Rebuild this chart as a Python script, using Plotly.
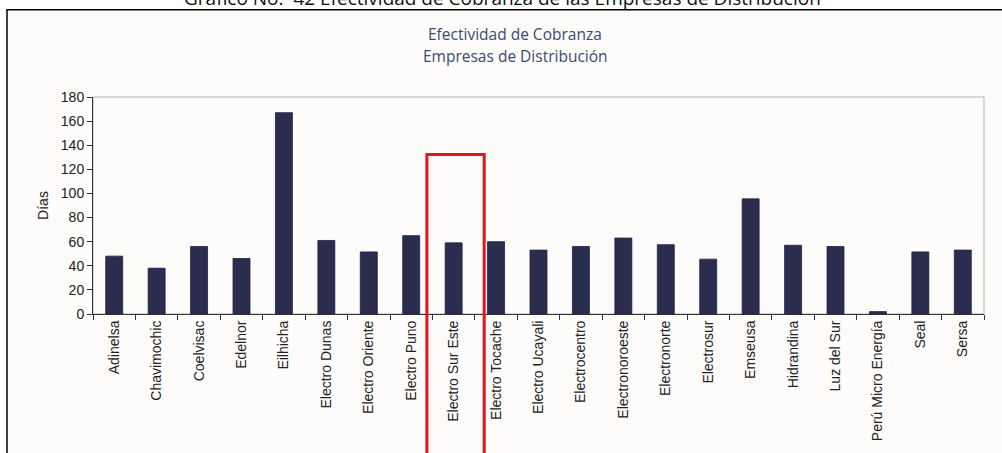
import plotly.graph_objects as go

categories = ["Adinelsa", "Chavimochic", "Coelvisac", "Edelnor", "Eilhicha",
              "Electro Dunas", "Electro Oriente", "Electro Puno", "Electro Sur Este",
              "Electro Tocache", "Electro Ucayali", "Electrocentro", "Electronoroeste",
              "Electronorte", "Electrosur", "Emseusa", "Hidrandina", "Luz del Sur",
              "Perú Micro Energía", "Seal", "Sersa"]
dias = [48, 38, 56, 46, 167, 61, 51.5, 65, 59, 60, 53, 56, 63, 57.5, 45.5, 95.5,
        57, 56, 2, 51.5, 53]
y_ticks = [0, 20, 40, 60, 80, 100, 120, 140, 160, 180]
highlight = "Electro Sur Este"

W, H = 1002, 453
L, R, T, B = 93, 18, 97, 137
pw, ph = W - L - R, H - T - B

def px_x(p):
    return (p - L) / pw

def px_y(p):
    return (H - B - p) / ph

fig = go.Figure(go.Bar(
    x=categories, y=dias,
    marker=dict(color="#2b2d4f", line=dict(color="#1e2040", width=0.8)),
    width=0.4,
))

n = len(categories)
hi = categories.index(highlight)

fig.update_layout(
    width=W, height=H,
    margin=dict(l=L, r=R, t=T, b=B, pad=0),
    paper_bgcolor="white",
    plot_bgcolor="white",
    showlegend=False,
    font=dict(family="Liberation Sans, Arial, sans-serif", size=13, color="#222222"),
    shapes=[
        # outer page frame
        dict(type="rect", xref="paper", yref="paper",
             x0=px_x(7), x1=px_x(W + 20), y0=px_y(H + 20), y1=px_y(9),
             line=dict(color="black", width=1.5), fillcolor="#fdfcfa", layer="below"),
        # plot area frame
        dict(type="rect", xref="paper", yref="paper", x0=0, x1=1, y0=0, y1=1,
             line=dict(color="#b0b0b0", width=1), layer="below"),
        # red highlight box
        dict(type="rect", xref="x domain", yref="y domain",
             x0=(hi + 0.5 - 0.63) / n, x1=(hi + 0.5 + 0.72) / n,
             y0=px_y(H + 20), y1=px_y(155),
             line=dict(color="#e8131b", width=3), fillcolor="rgba(0,0,0,0)", layer="above"),
    ],
    annotations=[
        dict(text="Gráfico No.  42 Efectividad de Cobranza de las Empresas de Distribución",
             xref="paper", yref="paper", x=px_x(502), y=px_y(-3),
             xanchor="center", yanchor="middle", showarrow=False,
             font=dict(family="Open Sans, sans-serif", size=19, color="#111111")),
        dict(text="Efectividad de Cobranza", xref="paper", yref="paper",
             x=px_x(515), y=px_y(33), xanchor="center", yanchor="middle", showarrow=False,
             font=dict(family="Open Sans, sans-serif", size=15.5, color="#3b4a70")),
        dict(text="Empresas de Distribución", xref="paper", yref="paper",
             x=px_x(515), y=px_y(56), xanchor="center", yanchor="middle", showarrow=False,
             font=dict(family="Open Sans, sans-serif", size=15.5, color="#3b4a70")),
    ],
)

fig.update_xaxes(
    type="category", tickangle=-90, showgrid=False,
    showline=True, linecolor="#333333", linewidth=1,
    ticks="outside", tickson="boundaries", ticklen=5, tickcolor="#333333",
    tickfont=dict(size=14, color="#222222"),
    range=[-0.5, n - 0.5],
)
fig.update_yaxes(
    range=[0, 180], tickvals=y_ticks, showgrid=False, zeroline=False,
    showline=True, linecolor="#333333", linewidth=1,
    ticks="outside", ticklen=5, tickcolor="#333333",
    tickfont=dict(size=14, color="#222222"),
    title=dict(text="Días", standoff=8, font=dict(size=14, color="#222222")),
)

fig.write_html("out.html",
               config={"displayModeBar": False},
               post_script="document.body.style.margin='0';document.body.style.overflow='hidden';")
